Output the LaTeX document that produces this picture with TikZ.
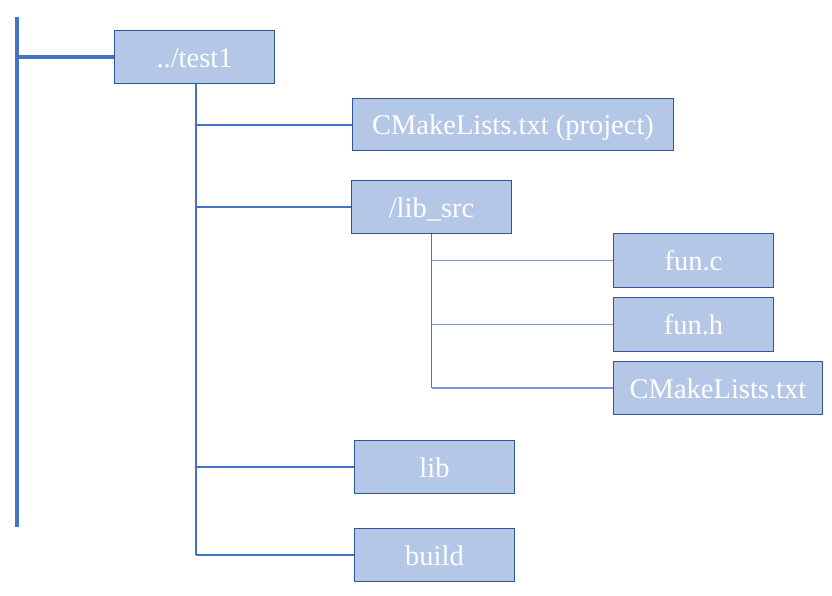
\documentclass[tikz,border=0pt]{standalone}
\usepackage{fontspec}
\setmainfont{Liberation Serif}
\definecolor{boxfill}{HTML}{B4C7E7}
\definecolor{boxline}{HTML}{2F5597}
\definecolor{conn}{HTML}{4472C4}
\definecolor{connlight}{HTML}{7C9BD6}
\tikzset{
  fbox/.style={draw=boxline, fill=boxfill, line width=1pt, anchor=north west,
    inner sep=0pt, minimum height=53pt, text=white, text height=20pt, text depth=0pt,
    font=\fontsize{28.5}{33}\selectfont},
  thickconn/.style={draw=conn, line width=4pt},
  midconn/.style={draw=conn, line width=2pt},
  thinconn/.style={draw=conn, line width=1.2pt},
  thinh/.style={draw=connlight, line width=1.6pt},
}
\begin{document}
\begin{tikzpicture}[x=1pt,y=-1pt]
\useasboundingbox (0,0) rectangle (832,595);
\coordinate (top) at (17,17);
\coordinate (bot) at (17,527);
\node[fbox, minimum width=160pt] (test1) at (114,30) {../test1};
\node[fbox, minimum width=321pt, minimum height=52pt] (proj) at (352,98) {CMakeLists.txt (project)};
\node[fbox, minimum width=160pt] (libsrc) at (351,180) {/lib\_src};
\node[fbox, minimum width=160pt, minimum height=54pt] (func) at (613,233) {fun.c};
\node[fbox, minimum width=160pt, minimum height=54pt] (funh) at (613,297) {fun.h};
\node[fbox, minimum width=209pt] (cml) at (613,361) {CMakeLists.txt};
\node[fbox, minimum width=160pt] (lib) at (354,440) {lib};
\node[fbox, minimum width=160pt] (build) at (354,528) {build};
% root
\draw[thickconn] (top) -- (bot);
\draw[thickconn] (test1.west -| top) -- (test1.west);
% test1 trunk
\draw[midconn] ([xshift=1pt]test1.south) -- ([xshift=1pt]test1.south |- build.west);
\foreach \n in {proj,libsrc,lib,build}{
  \draw[midconn] ([xshift=1pt]test1.south |- \n.west) -- (\n.west);
}
% lib_src trunk
\draw[thinconn] (libsrc.south) -- (libsrc.south |- cml.west);
\foreach \n in {func,funh,cml}{
  \draw[thinh] (libsrc.south |- \n.west) -- (\n.west);
}
\end{tikzpicture}
\end{document}
